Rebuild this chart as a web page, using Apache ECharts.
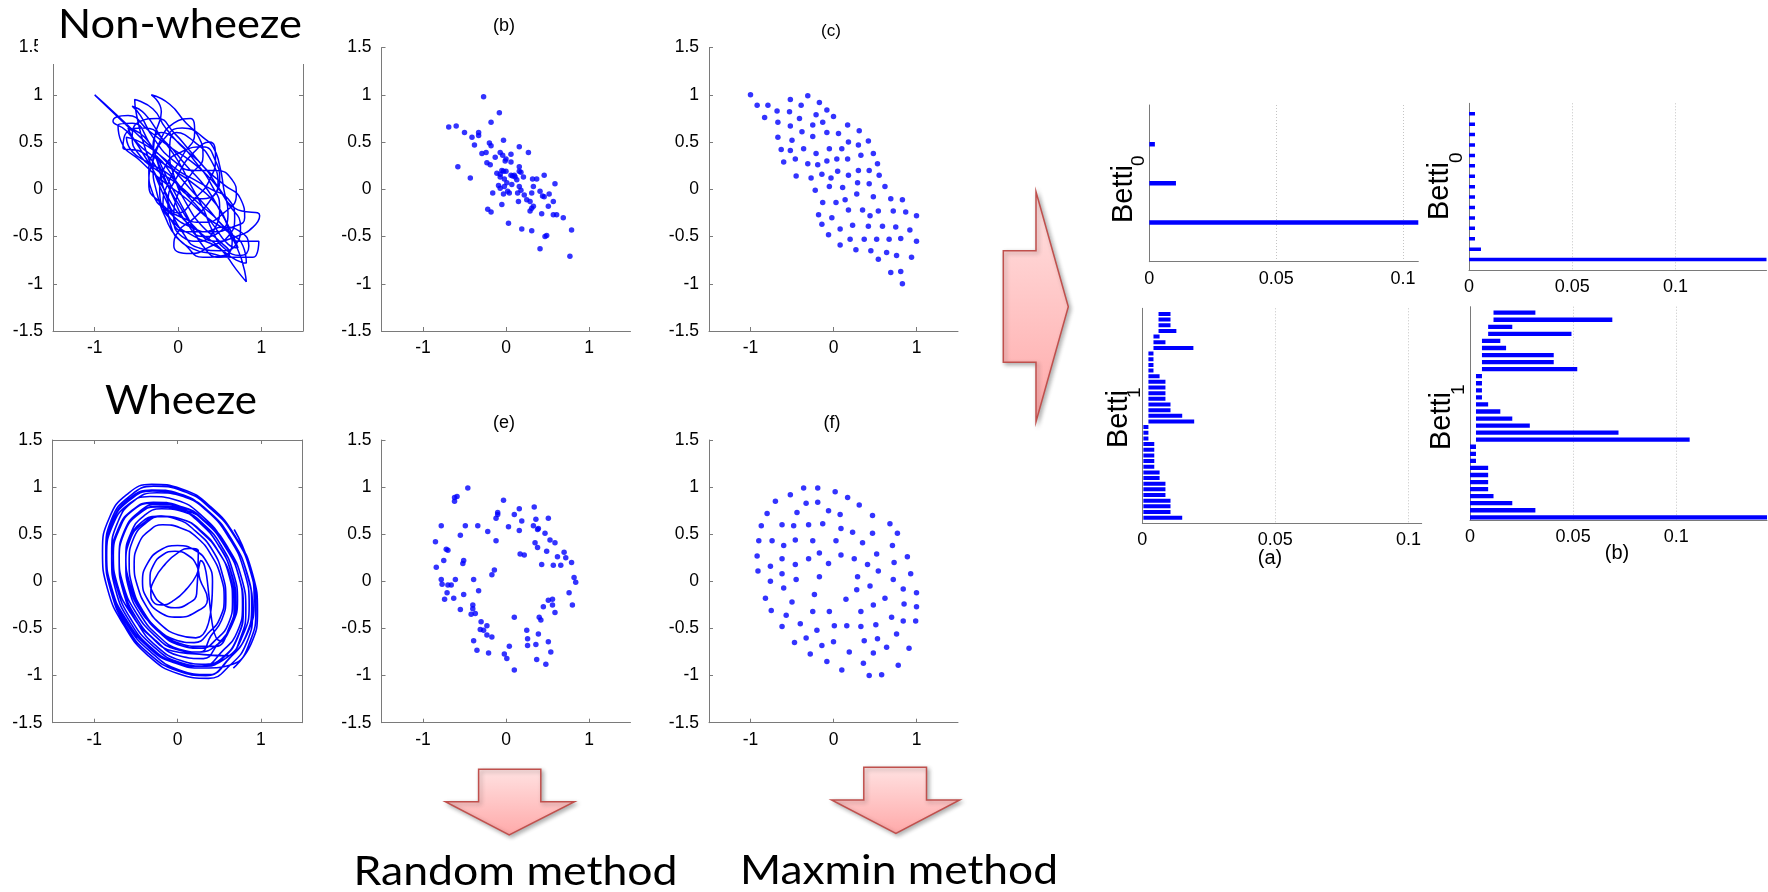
<!DOCTYPE html>
<html><head><meta charset="utf-8">
<script src="https://cdn.jsdelivr.net/npm/echarts@6/dist/echarts.min.js"></script>
<style>html,body{margin:0;padding:0;background:#fff}#c{width:1768px;height:892px}</style>
</head><body><div id="c"></div>
<script>
// ---------------- DATA ----------------
const scatterTicksY = [-1.5, -1, -0.5, 0, 0.5, 1, 1.5];
const scatterTicksX = [-1, 0, 1];
const barTicksX = [0, 0.05, 0.1];

// Non-wheeze trajectory
const nonWheezeCurve = [
[-0.55,0.62],[-1.0,1.0],[-0.75,0.8],[-0.45,0.55],[-0.15,0.3],[0.15,0.0],[0.45,-0.3],[0.7,-0.6],[0.82,-0.98],[0.7,-0.85],[0.5,-0.62],
[0.25,-0.45],[0.0,-0.25],[-0.2,0.05],[-0.4,0.35],[-0.62,0.62],[-0.78,0.72],[-0.6,0.78],[-0.35,0.62],[-0.1,0.45],[0.15,0.3],
[0.4,0.1],[0.6,-0.15],[0.75,-0.4],[0.7,-0.58],[0.5,-0.65],[0.25,-0.62],[0.05,-0.45],[-0.1,-0.2],[-0.25,0.1],[-0.4,0.45],
[-0.5,0.8],[-0.52,0.95],[-0.3,0.85],[-0.15,0.65],[0.05,0.45],[0.3,0.25],[0.5,0.0],[0.68,-0.2],[0.98,-0.28],[0.9,-0.4],
[0.7,-0.5],[0.45,-0.55],[0.2,-0.4],[0.0,-0.15],[-0.2,0.15],[-0.45,0.4],[-0.66,0.44],[-0.62,0.6],[-0.4,0.65],[-0.15,0.5],
[0.1,0.25],[0.35,0.0],[0.55,-0.3],[0.72,-0.55],[0.97,-0.55],[0.9,-0.72],[0.65,-0.72],[0.4,-0.68],[0.18,-0.63],[-0.02,-0.5],
[-0.15,-0.3],[-0.25,-0.05],[-0.3,0.25],[-0.28,0.55],[-0.2,0.82],[-0.32,1.0],[-0.1,0.9],[0.1,0.7],[0.3,0.55],[0.42,0.45],
[0.5,0.25],[0.55,0.0],[0.6,-0.25],[0.5,-0.45],[0.3,-0.5],[0.1,-0.35],[-0.05,-0.1],[-0.2,0.2],[-0.35,0.5],[-0.55,0.7],
[-0.72,0.68],[-0.68,0.5],[-0.45,0.3],[-0.2,0.1],[0.1,-0.1],[0.35,-0.3],[0.6,-0.45],[0.78,-0.6],[0.82,-0.78],[0.7,-0.75],
[0.45,-0.6],[0.2,-0.5],[-0.05,-0.35],[-0.18,-0.15],[-0.1,0.1],[0.05,0.35],[0.2,0.6],[0.15,0.75],[-0.05,0.7],[-0.25,0.45],
[-0.35,0.2],[-0.3,-0.05],[-0.1,-0.25],[0.15,-0.4],[0.4,-0.45],[0.65,-0.4],[0.8,-0.3],[0.75,-0.1],[0.55,0.05],[0.35,0.2],
[0.15,0.4],[-0.05,0.6],[-0.25,0.75],[-0.45,0.72],[-0.55,0.55],[-0.45,0.35],[-0.25,0.2],[0.0,0.05],[0.25,-0.15],[0.5,-0.35],
[0.65,-0.55],[0.55,-0.7],[0.3,-0.72],[0.1,-0.6],[-0.08,-0.4],[-0.12,-0.15],[0.0,0.15],[0.2,0.4],[0.38,0.5],[0.45,0.35],
[0.38,0.1],[0.2,-0.1],[0.0,-0.25],[-0.15,-0.05],[-0.25,0.3],[-0.4,0.55],[-0.6,0.65],[-0.5,0.5],[-0.3,0.35],[-0.05,0.2],
[0.2,0.05],[0.45,-0.15],[0.6,-0.38],[0.72,-0.62],[0.6,-0.58],[0.4,-0.35],[0.25,-0.2],
[0.05,0.0],[-0.15,0.25],[-0.3,0.45],[-0.2,0.6],[0.0,0.5],[0.2,0.3],[0.4,0.05],[0.5,-0.2],[0.45,-0.4],[0.25,-0.55],
[0.05,-0.5],[-0.05,-0.3],[0.0,-0.05],[0.15,0.15],[0.3,0.35],[0.25,0.55],[0.05,0.65],[-0.15,0.55],[-0.3,0.3],[-0.35,0.05],
[-0.2,-0.15],[0.05,-0.3],[0.3,-0.35],[0.55,-0.25],[0.7,-0.05],[0.65,0.1],[0.45,0.2],[0.2,0.2],[-0.05,0.3],[-0.3,0.55],
[-0.45,0.78],[-0.55,0.88],[-0.4,0.8],[-0.2,0.55],[0.0,0.3],[0.15,0.05],[0.3,-0.2],[0.42,-0.45],[0.55,-0.62],[0.75,-0.7],
[0.85,-0.6],[0.75,-0.45],[0.55,-0.4],[0.3,-0.45],[0.1,-0.45],[-0.1,-0.3],[-0.22,0.0],[-0.15,0.25],[0.05,0.4],[0.3,0.45],
[0.45,0.3],[0.5,0.1],[0.4,-0.1],[0.2,-0.3],[0.0,-0.45],[-0.05,-0.6],[0.15,-0.68],[0.4,-0.6],[0.6,-0.5],[0.68,-0.3],
[0.6,-0.1],[0.4,0.0],[0.2,0.1],[0.0,0.2],[-0.2,0.35],[-0.45,0.5],[-0.62,0.55],[-0.55,0.4],[-0.35,0.28],[-0.1,0.15],
[0.1,-0.05],[0.3,-0.1],[0.48,0.05],[0.4,0.3],[0.2,0.5],[-0.02,0.6],[-0.1,0.4],[-0.05,0.15],[0.1,-0.15],[0.3,-0.4],
[0.5,-0.55],[0.62,-0.68],[0.5,-0.72],[0.3,-0.6],[0.12,-0.3],[0.0,-0.1],[-0.12,0.1],[-0.25,0.35]
];

// Wheeze trajectory
const wheezeCurve = [
[0.67,-0.92],[0.88,-0.67],[0.96,-0.32],[0.90,0.08],[0.70,0.47],[0.40,0.79],[0.05,0.98],[-0.31,1.03],[-0.61,0.92],[-0.82,0.67],[-0.90,0.32],[-0.84,-0.08],[-0.64,-0.47],[-0.35,-0.79],[0.01,-0.98],[0.37,-1.03],
[0.63,-0.89],[0.83,-0.65],[0.90,-0.32],[0.84,0.06],[0.66,0.43],[0.38,0.73],[0.04,0.91],[-0.30,0.96],[-0.59,0.85],[-0.79,0.61],[-0.86,0.28],[-0.80,-0.10],[-0.62,-0.47],[-0.34,-0.77],[0.00,-0.95],[0.34,-1.00],
[0.63,-0.81],[0.82,-0.58],[0.89,-0.26],[0.83,0.10],[0.65,0.44],[0.39,0.73],[0.07,0.90],[-0.25,0.94],[-0.53,0.85],[-0.72,0.62],[-0.79,0.30],[-0.73,-0.06],[-0.56,-0.40],[-0.29,-0.69],[0.03,-0.86],[0.35,-0.90],
[0.55,-0.81],[0.72,-0.60],[0.79,-0.30],[0.74,0.04],[0.57,0.37],[0.32,0.64],[0.02,0.80],[-0.29,0.84],[-0.55,0.75],[-0.72,0.54],[-0.79,0.24],[-0.74,-0.10],[-0.57,-0.43],[-0.32,-0.70],[-0.02,-0.86],[0.29,-0.90],
[0.55,-0.73],[0.72,-0.53],[0.78,-0.25],[0.73,0.07],[0.58,0.38],[0.34,0.63],[0.06,0.79],[-0.23,0.82],[-0.47,0.73],[-0.64,0.53],[-0.70,0.25],[-0.65,-0.07],[-0.50,-0.38],[-0.26,-0.63],[0.02,-0.79],[0.31,-0.82],
[0.48,-0.67],[0.64,-0.48],[0.70,-0.22],[0.65,0.08],[0.50,0.37],[0.28,0.61],[0.02,0.76],[-0.25,0.79],[-0.48,0.71],[-0.64,0.52],[-0.70,0.26],[-0.65,-0.04],[-0.50,-0.33],[-0.28,-0.57],[-0.02,-0.72],[0.25,-0.75],
[0.48,-0.67],[0.63,-0.50],[0.68,-0.25],[0.64,0.03],[0.50,0.30],[0.29,0.52],[0.05,0.66],[-0.21,0.69],[-0.42,0.61],[-0.57,0.44],[-0.62,0.19],[-0.58,-0.09],[-0.44,-0.36],[-0.23,-0.58],[0.02,-0.72],[0.27,-0.75],
[0.40,-0.58],[0.53,-0.41],[0.58,-0.18],[0.54,0.07],[0.42,0.33],[0.22,0.53],[-0.01,0.66],[-0.24,0.69],[-0.44,0.62],[-0.57,0.45],[-0.62,0.22],[-0.58,-0.03],[-0.46,-0.29],[-0.26,-0.49],[-0.03,-0.62],[0.20,-0.65],
[0.39,-0.53],[0.51,-0.39],[0.56,-0.18],[0.52,0.05],[0.41,0.27],[0.24,0.46],[0.03,0.57],[-0.18,0.60],[-0.35,0.53],[-0.47,0.39],[-0.52,0.18],[-0.48,-0.05],[-0.37,-0.27],[-0.20,-0.46],[0.01,-0.57],[0.22,-0.60],
[0.42,0.0],[0.36,0.19],[0.21,0.33],[0.0,0.38],[-0.21,0.33],[-0.36,0.19],[-0.42,0.0],[-0.36,-0.19],[-0.21,-0.33],[0.0,-0.38],[0.21,-0.33],[0.36,-0.19],
[0.27,0.02],[0.23,0.17],[0.12,0.28],[-0.03,0.32],[-0.18,0.28],[-0.29,0.17],[-0.33,0.02],[-0.29,-0.13],[-0.18,-0.24],[-0.03,-0.28],[0.12,-0.24],[0.23,-0.13],
[0.25,0.32],[0.15,0.35],[0.0,0.30],[-0.15,0.18],[-0.27,0.03],[-0.32,-0.12],[-0.29,-0.22],[-0.19,-0.25],[-0.04,-0.20],[0.11,-0.08],[0.23,0.07],[0.28,0.22],
[0.51,-0.63],[0.66,-0.45],[0.72,-0.20],[0.67,0.09],[0.53,0.37],[0.32,0.60],[0.07,0.74],[-0.19,0.77],[-0.41,0.69],[-0.56,0.51],[-0.62,0.26],[-0.57,-0.03],[-0.43,-0.31],[-0.22,-0.54],[0.04,-0.68],[0.29,-0.71],
[0.47,-0.61],[0.61,-0.45],[0.66,-0.21],[0.62,0.06],[0.49,0.32],[0.29,0.53],[0.05,0.66],[-0.19,0.69],[-0.39,0.61],[-0.53,0.45],[-0.58,0.21],[-0.54,-0.06],[-0.41,-0.32],[-0.21,-0.53],[0.03,-0.66],[0.27,-0.69],
[0.46,-0.69],[0.62,-0.49],[0.69,-0.22],[0.64,0.10],[0.48,0.40],[0.25,0.64],[-0.02,0.80],[-0.30,0.83],[-0.54,0.75],[-0.70,0.55],[-0.77,0.28],[-0.72,-0.04],[-0.56,-0.34],[-0.33,-0.58],[-0.06,-0.74],[0.22,-0.77],
[0.59,-0.79],[0.76,-0.59],[0.82,-0.30],[0.77,0.03],[0.61,0.35],[0.37,0.61],[0.08,0.76],[-0.22,0.80],[-0.47,0.71],[-0.64,0.51],[-0.70,0.22],[-0.65,-0.11],[-0.49,-0.43],[-0.25,-0.69],[0.04,-0.84],[0.34,-0.88],
[0.54,-0.81],[0.72,-0.59],[0.79,-0.28],[0.73,0.07],[0.56,0.41],[0.30,0.69],[-0.01,0.86],[-0.33,0.90],[-0.60,0.81],[-0.78,0.59],[-0.85,0.28],[-0.79,-0.07],[-0.62,-0.41],[-0.36,-0.69],[-0.05,-0.86],[0.27,-0.90],
[0.59,-0.81],[0.78,-0.58],[0.86,-0.26],[0.80,0.11],[0.62,0.46],[0.35,0.75],[0.02,0.93],[-0.31,0.97],[-0.59,0.87],[-0.78,0.64],[-0.86,0.32],[-0.80,-0.05],[-0.62,-0.40],[-0.35,-0.69],[-0.02,-0.87],[0.31,-0.92],
[0.66,-0.88],[0.87,-0.64],[0.94,-0.30],[0.88,0.09],[0.69,0.47],[0.40,0.77],[0.06,0.96],[-0.29,1.01],[-0.58,0.90],[-0.79,0.66],[-0.86,0.32],[-0.80,-0.07],[-0.61,-0.45],[-0.32,-0.75],[0.02,-0.94],[0.37,-0.99],
[0.62,-0.82],[0.84,-0.55],[0.92,-0.2],[0.85,0.2],[0.68,0.55]
];

// (b) random sample, non-wheeze
const randomNonWheeze = [
[-0.27,0.98],[-0.08,0.81],[-0.18,0.71],[-0.69,0.66],[-0.60,0.67],[-0.50,0.60],[-0.33,0.60],[-0.33,0.57],[-0.41,0.55],[-0.38,0.47],
[-0.20,0.49],[-0.18,0.46],[-0.03,0.52],[0.16,0.45],[0.27,0.39],[-0.29,0.38],[-0.24,0.39],[-0.07,0.39],[-0.04,0.36],[0.06,0.37],
[-0.13,0.34],[0.00,0.32],[-0.01,0.30],[0.06,0.29],[-0.23,0.28],[-0.19,0.26],[-0.58,0.24],[0.16,0.24],[-0.05,0.20],[-0.03,0.19],
[0.00,0.19],[-0.11,0.17],[-0.07,0.16],[0.18,0.18],[0.16,0.19],[0.06,0.15],[0.08,0.14],[0.11,0.13],[0.21,0.13],[-0.43,0.12],
[-0.07,0.13],[0.13,0.10],[-0.02,0.11],[0.32,0.11],[0.37,0.11],[0.46,0.15],[0.01,0.07],[0.16,0.03],[0.33,0.03],[0.59,0.06],
[-0.02,0.03],[-0.07,0.01],[-0.16,-0.04],[-0.03,-0.05],[0.02,-0.02],[0.04,-0.04],[0.14,-0.04],[0.18,-0.01],[0.22,-0.06],[0.31,-0.04],
[0.41,-0.02],[0.44,-0.07],[0.46,-0.08],[0.52,-0.05],[0.25,-0.11],[0.29,-0.13],[0.15,-0.13],[-0.05,-0.16],[0.57,-0.13],[0.51,-0.18],
[0.33,-0.18],[0.31,-0.20],[0.29,-0.23],[-0.22,-0.21],[-0.18,-0.24],[0.57,-0.27],[0.61,-0.27],[0.69,-0.30],[0.43,-0.26],[0.03,-0.36],
[0.19,-0.42],[0.31,-0.44],[0.49,-0.49],[0.47,-0.50],[0.79,-0.43],[0.41,-0.63],[0.77,-0.71],[0.07,0.05],[0.10,0.15],[-0.09,0.04]
];

// (c) maxmin sample, non-wheeze
const maxminNonWheeze = [
[-1.0,1.0],[-0.92,0.89],[-0.79,0.89],[-0.83,0.76],[-0.68,0.83],[-0.52,0.95],[-0.31,0.99],[-0.17,0.92],[-0.39,0.89],[-0.53,0.82],
[-0.67,0.71],[-0.41,0.75],[-0.21,0.79],[-0.08,0.84],[0.00,0.77],[-0.13,0.71],[-0.25,0.68],[-0.52,0.67],[-0.67,0.55],[-0.38,0.61],
[-0.08,0.60],[0.06,0.59],[0.17,0.68],[0.31,0.62],[-0.25,0.56],[-0.50,0.52],[-0.63,0.42],[-0.52,0.41],[-0.36,0.43],[-0.05,0.43],
[0.10,0.43],[0.18,0.50],[0.30,0.47],[0.42,0.51],[-0.21,0.38],[-0.46,0.32],[-0.60,0.29],[-0.31,0.27],[-0.19,0.26],[-0.08,0.30],
[0.04,0.32],[0.17,0.32],[0.33,0.36],[0.48,0.38],[0.53,0.27],[-0.45,0.14],[-0.27,0.12],[-0.14,0.16],[-0.03,0.12],[0.05,0.19],
[0.18,0.15],[0.30,0.20],[0.43,0.20],[0.55,0.15],[-0.22,-0.01],[-0.05,0.03],[0.11,0.02],[0.29,0.07],[0.43,0.06],[0.62,0.03],
[-0.13,-0.14],[0.03,-0.14],[0.14,-0.11],[0.28,-0.05],[0.48,-0.08],[0.69,-0.10],[0.83,-0.11],[-0.18,-0.27],[-0.02,-0.30],[0.18,-0.22],
[0.35,-0.22],[0.44,-0.28],[0.54,-0.23],[0.72,-0.23],[0.87,-0.24],[1.0,-0.28],[-0.14,-0.37],[-0.06,-0.48],[0.08,-0.42],[0.23,-0.38],
[0.37,-0.53],[0.42,-0.39],[0.52,-0.53],[0.59,-0.39],[0.67,-0.53],[0.75,-0.40],[0.81,-0.52],[0.92,-0.43],[1.0,-0.55],[0.08,-0.59],
[0.20,-0.53],[0.27,-0.64],[0.45,-0.65],[0.54,-0.74],[0.64,-0.67],[0.76,-0.70],[0.94,-0.72],[0.69,-0.88],[0.81,-0.87],[0.83,-1.0]
];

// (e) random sample, wheeze
const randomWheeze = [
[-0.46,0.99],[-0.62,0.89],[-0.59,0.90],[-0.62,0.85],[-0.03,0.86],[-0.78,0.59],[-0.49,0.59],[-0.34,0.59],[-0.55,0.49],[-0.85,0.42],
[-0.22,0.53],[-0.12,0.43],[-0.10,0.73],[-0.10,0.71],[-0.12,0.67],[0.03,0.58],[0.10,0.71],[0.16,0.77],[0.19,0.64],[0.16,0.54],
[0.34,0.79],[0.36,0.66],[0.33,0.59],[0.38,0.55],[0.39,0.56],[0.51,0.67],[0.47,0.51],[0.53,0.44],[0.59,0.41],[0.35,0.41],
[0.38,0.36],[0.49,0.32],[0.17,0.29],[0.22,0.28],[0.70,0.31],[0.72,0.25],[0.62,0.26],[0.43,0.18],[0.57,0.17],[0.66,0.17],
[0.79,0.20],[0.82,0.04],[0.84,-0.01],[0.76,-0.12],[0.80,-0.25],[-0.84,0.15],[-0.75,0.22],[-0.72,0.34],[-0.70,0.33],[-0.52,0.19],
[-0.51,0.22],[-0.14,0.12],[-0.17,0.07],[-0.78,0.02],[-0.77,-0.03],[-0.70,-0.04],[-0.66,-0.04],[-0.61,0.02],[-0.71,-0.12],[-0.39,0.02],
[-0.33,-0.10],[-0.74,-0.19],[-0.63,-0.18],[-0.51,-0.14],[-0.55,-0.30],[-0.40,-0.25],[-0.40,-0.29],[-0.42,-0.35],[-0.37,-0.34],[0.51,-0.20],
[0.56,-0.19],[0.56,-0.25],[0.45,-0.27],[0.59,-0.33],[0.42,-0.41],[0.40,-0.38],[0.10,-0.38],[-0.30,-0.43],[-0.31,-0.51],[-0.27,-0.52],
[-0.23,-0.57],[-0.23,-0.47],[-0.17,-0.59],[-0.39,-0.63],[-0.35,-0.73],[-0.21,-0.76],[0.04,-0.69],[-0.02,-0.77],[0.01,-0.82],[0.10,-0.94],
[0.25,-0.52],[0.26,-0.61],[0.26,-0.68],[0.39,-0.56],[0.36,-0.67],[0.51,-0.64],[0.54,-0.75],[0.37,-0.83],[0.48,-0.88]
];

// (f) maxmin sample, wheeze
const maxminWheeze = [
[-0.36,0.99],[-0.19,0.99],[-0.52,0.92],[0.02,0.95],[-0.70,0.85],[-0.33,0.83],[-0.19,0.84],[0.17,0.89],[0.31,0.81],[-0.80,0.72],
[-0.44,0.73],[-0.06,0.75],[0.08,0.71],[0.47,0.70],[-0.87,0.59],[-0.62,0.60],[-0.48,0.59],[-0.30,0.60],[-0.13,0.61],[0.09,0.56],
[0.23,0.52],[0.47,0.51],[0.68,0.61],[0.77,0.51],[-0.90,0.43],[-0.74,0.43],[-0.46,0.44],[-0.25,0.43],[0.03,0.43],[0.35,0.41],
[-0.60,0.38],[0.71,0.38],[-0.92,0.27],[-0.62,0.24],[-0.17,0.30],[0.09,0.28],[0.25,0.24],[0.52,0.29],[0.89,0.26],[-0.76,0.16],
[-0.46,0.18],[-0.30,0.24],[-0.06,0.19],[0.41,0.18],[0.73,0.20],[-0.91,0.11],[-0.62,0.08],[-0.17,0.05],[0.54,0.11],[0.93,0.08],
[-0.76,0.00],[-0.45,0.02],[0.29,0.05],[0.72,0.02],[-0.60,-0.07],[0.28,-0.09],[0.44,-0.05],[0.84,-0.08],[1.0,-0.12],[-0.82,-0.18],
[-0.23,-0.14],[0.15,-0.19],[0.62,-0.18],[-0.50,-0.22],[0.48,-0.25],[0.85,-0.24],[1.0,-0.27],[-0.75,-0.31],[-0.25,-0.32],[-0.05,-0.32],
[0.33,-0.32],[-0.57,-0.36],[0.70,-0.38],[-0.40,-0.45],[0.01,-0.47],[0.16,-0.47],[0.33,-0.48],[0.51,-0.46],[0.84,-0.42],[0.99,-0.42],
[-0.62,-0.48],[-0.20,-0.52],[-0.33,-0.60],[0.00,-0.64],[0.37,-0.63],[0.53,-0.61],[0.76,-0.56],[-0.47,-0.65],[-0.14,-0.68],[-0.28,-0.77],
[0.19,-0.75],[0.48,-0.76],[0.64,-0.70],[0.91,-0.71],[-0.08,-0.85],[0.36,-0.87],[0.78,-0.89],[0.10,-0.94],[0.43,-1.0],[0.58,-0.99]
];

// Barcodes (listed top to bottom): birth / death
const betti0A_birth = [0, 0, 0];
const betti0A_death = [0.0022, 0.0105, 0.106];
const betti1A_birth = [0.0061,0.0061,0.0061,0.0061,0.0042,0.0042,0.0042,
  0.0023,0.0023,0.0023,0.0023,0.0023,0.0023,0.0023,0.0023,0.0023,0.0023,0.0023,0.0023,0.0023,
  0.0004,0.0004,0.0004,0.0004,0.0004,0.0004,0.0004,0.0004,0.0004,0.0004,0.0004,0.0004,0.0004,0.0004,0.0004,0.0004,0.0004];
const betti1A_death = [0.0106,0.0106,0.0106,0.0128,0.0065,0.0087,0.0192,
  0.0042,0.0042,0.0042,0.0042,0.0065,0.0087,0.0087,0.0087,0.0087,0.0106,0.0106,0.015,0.0195,
  0.0023,0.0023,0.0023,0.0045,0.0045,0.0045,0.0045,0.0045,0.0065,0.0065,0.0087,0.0087,0.0087,0.0106,0.0106,0.0106,0.015];
const betti0B_birth = [0,0,0,0,0,0,0,0,0,0,0,0,0,0,0];
const betti0B_death = [0.0029,0.0029,0.0029,0.0029,0.0029,0.0029,0.0029,0.0029,0.0029,0.0029,0.0029,0.0029,0.0029,0.0058,0.144];
const betti1B_birth = [0.0114,0.0114,0.0088,0.0088,0.0058,0.0058,0.0058,0.0058,0.0058,
  0.0029,0.0029,0.0029,0.0029,0.0029,0.0029,0.0029,0.0029,0.0029,0.0029,
  0,0,0,0,0,0,0,0,0,0,0];
const betti1B_death = [0.0317,0.069,0.0205,0.0492,0.0147,0.0175,0.0406,0.0406,0.052,
  0.0058,0.0058,0.0058,0.0058,0.0088,0.0147,0.0205,0.029,0.072,0.1065,
  0.0029,0.0029,0.0029,0.0088,0.0088,0.0088,0.0088,0.0114,0.0205,0.0317,0.144];

// ---------------- LAYOUT / STYLE ----------------
const AXC = '#7a7a7a';
const FONT = 'Liberation Sans, Arial, sans-serif';
const BLUE = '#0000ff';

function gridPx(l, t, w, h) { return { left: l, top: t, width: w, height: h, outerBoundsMode: 'none', containLabel: false }; }
const grids = [
  gridPx(53, 47.6, 250, 283.4),
  gridPx(381.5, 47.6, 249, 283.4),
  gridPx(709, 47.6, 249, 283.4),
  gridPx(52.5, 440, 250, 282.7),
  gridPx(381.5, 440, 249, 282.7),
  gridPx(709, 440, 249, 282.7),
  gridPx(1149.3, 105, 269, 156.7),
  gridPx(1469, 103.3, 297.5, 166.7),
  gridPx(1142.3, 308.3, 279.4, 215),
  gridPx(1470, 306.7, 297, 213.3)
];

function sx(g, pos, labels) {
  return { type: 'value', gridIndex: g, position: pos, min: -1.5, max: 1.5,
    axisLine: { show: true, onZero: false, lineStyle: { color: AXC, width: 1 } },
    axisTick: { show: true, inside: true, length: 4, customValues: scatterTicksX, lineStyle: { color: AXC } },
    axisLabel: { show: labels, color: '#000', fontFamily: FONT, fontSize: 17.5, margin: 8, customValues: scatterTicksX },
    splitLine: { show: false } };
}
function sy(g, pos, labels) {
  return { type: 'value', gridIndex: g, position: pos, min: -1.5, max: 1.5,
    axisLine: { show: true, onZero: false, lineStyle: { color: AXC, width: 1 } },
    axisTick: { show: true, inside: true, length: 4, customValues: scatterTicksY, lineStyle: { color: AXC } },
    axisLabel: { show: labels, color: '#000', fontFamily: FONT, fontSize: 17.5, margin: 10, customValues: scatterTicksY },
    splitLine: { show: false } };
}
function bx(g, max) {
  return { type: 'value', gridIndex: g, min: 0, max: max,
    axisLine: { show: true, onZero: false, lineStyle: { color: AXC, width: 1 } },
    axisTick: { show: false, customValues: [0.05, 0.1] },
    axisLabel: { color: '#000', fontFamily: FONT, fontSize: 18, margin: 8, customValues: barTicksX },
    splitLine: { show: true, lineStyle: { color: '#c4c4c4', width: 1, type: [1, 2] } } };
}
function by(g, min, max) {
  return { type: 'value', gridIndex: g, min: min, max: max,
    axisLine: { show: true, onZero: false, lineStyle: { color: AXC, width: 1 } },
    axisTick: { show: false }, axisLabel: { show: false }, splitLine: { show: false } };
}

const xAxes = [sx(0,'bottom',true), sx(0,'top',false), sx(1,'bottom',true), sx(2,'bottom',true),
  sx(3,'bottom',true), sx(3,'top',false), sx(4,'bottom',true), sx(5,'bottom',true),
  bx(6, 0.106), bx(7, 0.144), bx(8, 0.105), bx(9, 0.144)];
const yAxes = [sy(0,'left',true), sy(0,'right',false), sy(1,'left',true), sy(2,'left',true),
  sy(3,'left',true), sy(3,'right',false), sy(4,'left',true), sy(5,'left',true),
  by(6, 0, 4), by(7, 0, 16), by(8, 0, 38), by(9, 0.62, 30.85)];

function barcodeData(birth, death) {
  const n = birth.length;
  return birth.map((b, i) => [b, death[i], n - i]);
}
function barcodeSeries(idx, birth, death, thick) {
  return { type: 'custom', xAxisIndex: idx, yAxisIndex: idx, clip: true,
    data: barcodeData(birth, death), encode: { x: [0, 1], y: 2 },
    renderItem: function (params, api) {
      const s = api.coord([api.value(0), api.value(2)]);
      const e = api.coord([api.value(1), api.value(2)]);
      return { type: 'rect', shape: { x: s[0], y: s[1] - thick / 2, width: Math.max(1, e[0] - s[0]), height: thick },
        style: { fill: BLUE } };
    } };
}

const series = [
  { type: 'line', xAxisIndex: 0, yAxisIndex: 0, data: nonWheezeCurve, showSymbol: false, smooth: 0.55,
    lineStyle: { color: BLUE, width: 1.5 } },
  { type: 'scatter', xAxisIndex: 2, yAxisIndex: 2, data: randomNonWheeze, symbolSize: 5.5, itemStyle: { color: BLUE } },
  { type: 'scatter', xAxisIndex: 3, yAxisIndex: 3, data: maxminNonWheeze, symbolSize: 5.5, itemStyle: { color: BLUE } },
  { type: 'line', xAxisIndex: 4, yAxisIndex: 4, data: wheezeCurve, showSymbol: false, smooth: 0.5,
    lineStyle: { color: BLUE, width: 1.6 } },
  { type: 'scatter', xAxisIndex: 6, yAxisIndex: 6, data: randomWheeze, symbolSize: 5.5, itemStyle: { color: BLUE } },
  { type: 'scatter', xAxisIndex: 7, yAxisIndex: 7, data: maxminWheeze, symbolSize: 5.5, itemStyle: { color: BLUE } },
  barcodeSeries(8, betti0A_birth, betti0A_death, 4.5),
  barcodeSeries(9, betti0B_birth, betti0B_death, 3.5),
  barcodeSeries(10, betti1A_birth, betti1A_death, 4),
  barcodeSeries(11, betti1B_birth, betti1B_death, 4.3)
];

// text fitting
const mctx = document.createElement('canvas').getContext('2d');
function fitScale(text, font, target) { mctx.font = font; return target / mctx.measureText(text).width; }
const BIG = '40px Lato';
function bigText(text, x, yMid, targetW) {
  return { type: 'text', x: x, y: yMid, z: 60, scaleX: fitScale(text, BIG, targetW),
    style: { text: text, font: BIG, fill: '#000', textAlign: 'left', textVerticalAlign: 'middle' } };
}
function smallText(text, x, y, size) {
  return { type: 'text', x: x, y: y, z: 60,
    style: { text: text, font: size + 'px ' + FONT, fill: '#000', textAlign: 'center', textVerticalAlign: 'middle' } };
}
function rotText(text, x, y, size) {
  return { type: 'text', x: x, y: y, z: 60, rotation: Math.PI / 2,
    style: { text: text, font: size + 'px ' + FONT, fill: '#000', textAlign: 'left', textVerticalAlign: 'middle' } };
}
const arrowFill = { type: 'linear', x: 0, y: 0, x2: 0, y2: 1,
  colorStops: [{ offset: 0, color: '#ffe2e2' }, { offset: 1, color: '#ffa9a9' }] };
function arrow(points) {
  return { type: 'polygon', z: 40, shape: { points: points },
    style: { fill: arrowFill, stroke: '#c0504d', lineWidth: 1.5,
      shadowBlur: 4, shadowOffsetX: 2, shadowOffsetY: 2, shadowColor: 'rgba(0,0,0,0.3)' } };
}

const graphics = [
  { type: 'rect', z: 50, shape: { x: 38, y: 0, width: 285, height: 64 }, style: { fill: '#fff' } },
  bigText('Non-wheeze', 58, 25, 244),
  bigText('Wheeze', 105, 401.5, 152),
  bigText('Random method', 353.5, 872, 324),
  bigText('Maxmin method', 740, 871.5, 318),
  smallText('(b)', 504, 26, 18),
  smallText('(c)', 831, 31, 17),
  smallText('(e)', 504, 423, 18),
  smallText('(f)', 832, 423, 18),
  smallText('(a)', 1270, 558, 20),
  smallText('(b)', 1617, 553, 20),
  rotText('Betti', 1124, 223, 29),
  rotText('0', 1139, 166, 19),
  rotText('Betti', 1440, 220, 29),
  rotText('0', 1457, 163, 19),
  rotText('Betti', 1119, 448, 29),
  rotText('1', 1135, 398, 19),
  rotText('Betti', 1442, 450, 29),
  rotText('1', 1459, 395, 19),
  arrow([[1003.3,250.7],[1036,250.7],[1036,191.7],[1068.3,306.7],[1036,421.7],[1036,362.3],[1003.3,362.3]]),
  arrow([[478.6,769.3],[540.8,769.3],[540.8,801.7],[574.5,801.7],[509.2,835],[445.4,801.7],[478.6,801.7]]),
  arrow([[863.8,767.3],[926.5,767.3],[926.5,800],[959.7,800],[895.9,833.3],[831.6,800],[863.8,800]])
];

const chart = echarts.init(document.getElementById('c'), null, { renderer: 'canvas' });
chart.setOption({
  animation: false,
  backgroundColor: '#fff',
  grid: grids,
  xAxis: xAxes,
  yAxis: yAxes,
  series: series,
  graphic: { elements: graphics }
});
</script></body></html>
